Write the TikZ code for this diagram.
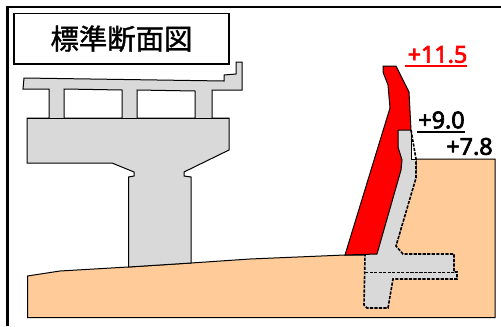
\documentclass[tikz,border=0pt]{standalone}
\usepackage{fontspec}
\newfontfamily\jpfont[FakeBold=1.2]{Noto Sans CJK JP}
\newfontfamily\numfont[FakeBold=2.8]{Noto Sans}
\definecolor{gnd}{HTML}{FFCC99}
\definecolor{conc}{HTML}{D9D9D9}
\tikzset{
  part/.style={draw=black,line width=0.75pt,line join=miter},
  dash part/.style={draw=black,line width=1.2pt,dash pattern=on 2.4pt off 1pt},
  level/.style={font=\numfont\fontsize{17.5}{20}\selectfont,inner sep=0pt,text=black},
}
\begin{document}
\begin{tikzpicture}[x=0.75pt,y=-0.75pt]
\useasboundingbox (0,0) rectangle (501,326);
\fill[white] (0,0) rectangle (501,326);
% frame
\draw[line width=1.6pt] (501,7) -- (7.5,7) -- (7.5,326);
% ground
\path[part,fill=gnd] (27.5,276) -- (60,271) -- (128,267) -- (191,263) -- (250,259) -- (345,255) -- (365,255) -- (396,246) -- (416,170) -- (416,159) -- (495,159) -- (495,317.5) -- (27.5,317.5) -- cycle;
% bridge
\path[part,fill=conc] (24,78) -- (224,81) -- (224,75) -- (236,74) -- (236,62) -- (242,62) -- (242,90) -- (212,90) -- (212,118) -- (229,118) -- (229,150) -- (184,172) -- (184,176) -- (191,177) -- (191,263) -- (128.5,267) -- (128.5,177) -- (134,176) -- (134,172) -- (112,163) -- (27,163) -- (27,118) -- (49,118) -- (49,89) -- (23,89) -- cycle;
\path[part,fill=white] (64,118) -- (64,89) -- (122,90) -- (122,118) -- cycle;
\path[part,fill=white] (137,118) -- (137,90) -- (195,91) -- (195,118) -- cycle;
\draw[part] (27,118) -- (229,118);
% retaining structure
\path[fill=conc] (398,130) -- (411,130) -- (411,159) -- (416,159) -- (416,178) -- (396,246) -- (403,254) -- (454,254) -- (454,272) -- (457,272) -- (457,279) -- (393,279) -- (388,308) -- (367,308) -- (364,305) -- (365,255) -- (377,254) -- (401,170) -- (402,160) -- (398,147) -- cycle;
\draw[dash part] (411,130) -- (416,159) -- (416,178) -- (396,246) -- (403,254) -- (454,254) -- (454,272) -- (457,272) -- (457,279) -- (393,279) -- (388,308) -- (367,308) -- (364,305) -- (365,255);
\draw[dash part] (365,272.5) -- (454,272.5);
\draw[part] (411,130) -- (411,159) -- (416,159);
% red wall
\path[part,fill=red] (383,66) -- (396,66) -- (409,92) -- (411,130) -- (398,130) -- (398,147) -- (402,160) -- (401,170) -- (377,254) -- (345,255) -- (390,108) -- (388,85) -- (383,72) -- cycle;
% title
\node[draw=black,line width=1.4pt,fill=white,minimum width=215pt*0.75,minimum height=50.5pt*0.75,inner sep=0pt,font=\jpfont\fontsize{21.3}{24}\selectfont] (title) at (121.5,38.7) {\raisebox{-3.5pt}{標準断面図}};
% levels
\node[level,text=red] (a) at (437.5,54.5) {+11.5};
\node[level] (b) at (441.5,120) {+9.0};
\node[level] (c) at (469.5,146.5) {+7.8};
\draw[red,line width=1.2pt] (a.west|-a.south) ++(-2,3) -- ++(62,0);
\draw[line width=1.2pt] (b.west|-b.south) ++(-1,3) -- ++(48,0);
\end{tikzpicture}
\end{document}
